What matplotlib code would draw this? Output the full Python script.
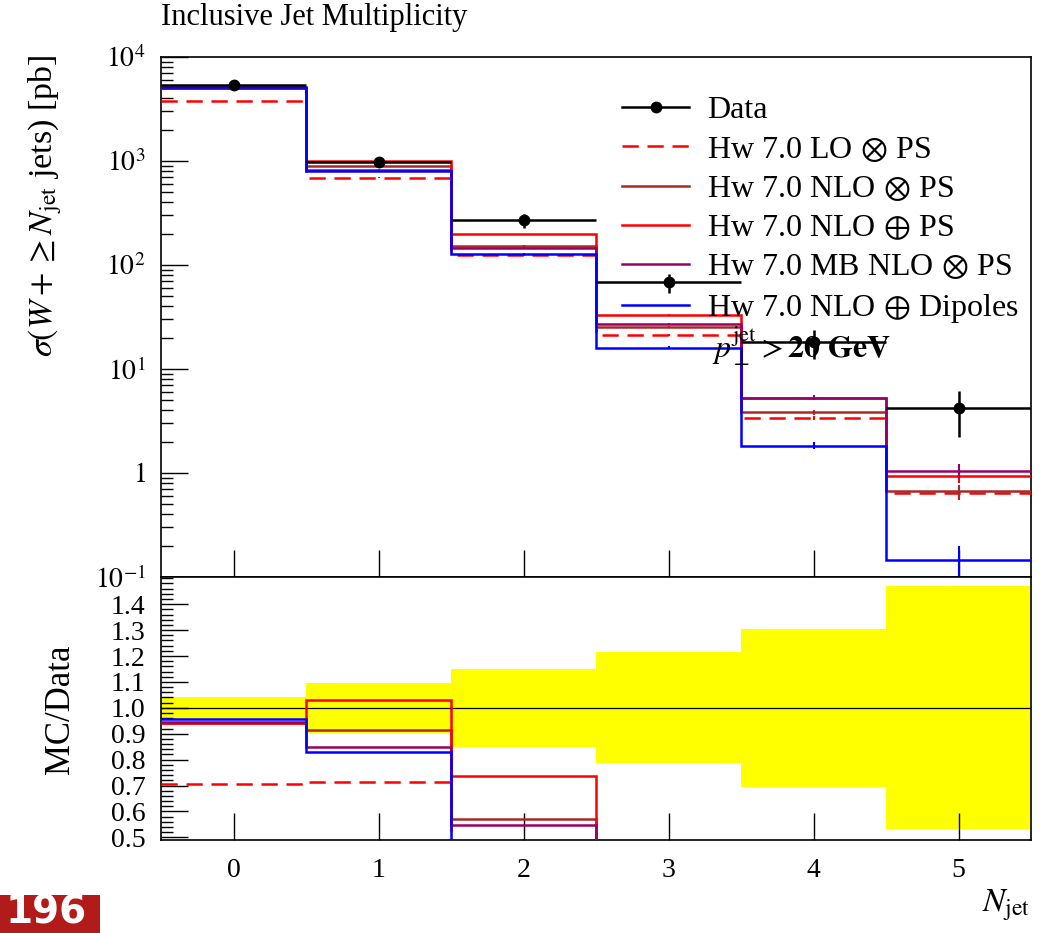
import numpy as np
import matplotlib
matplotlib.use("Agg")
import matplotlib.pyplot as plt
from matplotlib.lines import Line2D
from matplotlib.patches import Rectangle
from matplotlib.ticker import FixedLocator, LogLocator, MultipleLocator, NullFormatter, FormatStrFormatter

plt.rcParams['font.family'] = ['Liberation Serif', 'DejaVu Serif']
plt.rcParams['mathtext.fontset'] = 'stix'

# inclusive jet multiplicity, W + >= N jets
njet = [0, 1, 2, 3, 4, 5]
data = [5380, 970, 268, 68, 18.1, 4.2]
data_err = [235, 94, 40, 14.6, 5.5, 1.97]

lo_ps = [3790, 693, 124, 21.2, 3.40, 0.647]
nlo_otimes_ps = [5075, 886, 153, 25.5, 3.84, 0.671]
nlo_oplus_ps = [5060, 1000, 198, 33.0, 5.25, 0.935]
mb_nlo_otimes_ps = [5085, 825, 147, 27.1, 5.30, 1.05]
nlo_oplus_dipoles = [5150, 805, 128, 16.0, 1.83, 0.146]

# relative MC statistical uncertainties
mc_rel_err = [0.003, 0.005, 0.01, 0.02, 0.05, 0.15]
dipoles_rel_err = [0.003, 0.005, 0.01, 0.03, 0.08, 0.35]

series = [
    ("Hw 7.0 LO$\\,\\otimes\\,$PS", lo_ps, "#ff0000", (0, (6.5, 3.5)), mc_rel_err),
    ("Hw 7.0 NLO$\\,\\otimes\\,$PS", nlo_otimes_ps, "#a52a2a", "-", mc_rel_err),
    ("Hw 7.0 NLO$\\,\\oplus\\,$PS", nlo_oplus_ps, "#ff0000", "-", mc_rel_err),
    ("Hw 7.0 MB NLO$\\,\\otimes\\,$PS", mb_nlo_otimes_ps, "#990066", "-", mc_rel_err),
    ("Hw 7.0 NLO$\\,\\oplus\\,$Dipoles", nlo_oplus_dipoles, "#0000ff", "-", dipoles_rel_err),
]

x = np.array(njet, dtype=float)
edges = np.append(x - 0.5, x[-1] + 0.5)
d = np.array(data)
derr = np.array(data_err)

W, H = 1040, 933
fig = plt.figure(figsize=(W / 100, H / 100), dpi=100)
L, R = 161, 1031
ax = fig.add_axes([L / W, 1 - 577 / H, (R - L) / W, (577 - 57) / H])
ax2 = fig.add_axes([L / W, 1 - 840 / H, (R - L) / W, (840 - 577) / H])

lw = 1.8
# main panel
for label, vals, col, ls, rel in series:
    v = np.array(vals)
    ax.stairs(v, edges, baseline=None, color=col, ls=ls, lw=lw, zorder=3)
    ax.errorbar(x, v, yerr=v * np.array(rel), fmt='none', ecolor=col, elinewidth=1.5, zorder=3)

ax.errorbar(x, d, xerr=0.5, yerr=derr, fmt='o', color='black', ms=7.5,
            elinewidth=lw, capsize=0, zorder=4)

ax.set_yscale('log')
ax.set_xlim(-0.5, 5.5)
ax.set_ylim(0.1, 1e4)
ax.yaxis.set_major_locator(FixedLocator([0.1, 1, 10, 100, 1e3, 1e4]))
ax.set_yticklabels(['$10^{-1}$', '$1$', '$10^{1}$', '$10^{2}$', '$10^{3}$', '$10^{4}$'])
ax.yaxis.set_minor_locator(LogLocator(base=10, subs=np.arange(2, 10)))
ax.yaxis.set_minor_formatter(NullFormatter())
ax.set_xticks(njet)
ax.tick_params(axis='x', which='both', direction='in', length=19.5, width=1.0,
               labelbottom=False, top=False)
ax.tick_params(axis='y', which='major', direction='in', length=19.5, width=1.0,
               labelsize=20, pad=11, right=False)
ax.tick_params(axis='y', which='minor', direction='in', length=8.5, width=1.0, right=False)
for s in ax.spines.values():
    s.set_linewidth(1.2)

fig.text(L / W, 1 - 18 / H, "Inclusive Jet Multiplicity", fontsize=22, ha='left', va='center')
fig.text(45 / W, 1 - 55 / H, r"$\sigma(W + \geq N_{\rm jet}$ jets) [pb]", fontsize=24.5,
         rotation=90, ha='center', va='top')

handles = [Line2D([], [], color='black', lw=lw, marker='o', ms=7.5)]
labels = ["Data"]
for label, vals, col, ls, rel in series:
    handles.append(Line2D([], [], color=col, ls=ls, lw=lw))
    labels.append(label)
ax.legend(handles, labels, loc='upper left', bbox_to_anchor=(0.530, 0.925),
          frameon=False, fontsize=23, handlelength=2.1, handletextpad=0.55,
          labelspacing=0.31, borderpad=0, borderaxespad=0)

ax.text(0.633, 0.421, r"$p_\perp^{\rm jet} > \mathbf{20\ GeV}$", transform=ax.transAxes,
        fontsize=23, ha='left', va='baseline', zorder=5)

# ratio panel
rel_data = derr / d
ax2.bar(x, 2 * rel_data, bottom=1 - rel_data, width=1.0, color='#ffff00', lw=0, zorder=1)
ax2.axhline(1.0, color='black', lw=0.9, zorder=2)
for label, vals, col, ls, rel in series:
    r = np.array(vals) / d
    ax2.stairs(r, edges, baseline=None, color=col, ls=ls, lw=lw, zorder=3)

ax2.set_xlim(-0.5, 5.5)
ax2.set_ylim(0.49, 1.505)
ax2.yaxis.set_major_locator(FixedLocator(np.round(np.arange(0.5, 1.45, 0.1), 1)))
ax2.yaxis.set_major_formatter(FormatStrFormatter('%.1f'))
ax2.yaxis.set_minor_locator(MultipleLocator(0.02))
ax2.set_xticks(njet)
ax2.tick_params(axis='x', which='both', direction='in', length=19.5, width=1.0,
                labelsize=20, pad=13, top=False)
ax2.tick_params(axis='y', which='major', direction='in', length=19.5, width=1.0,
                labelsize=20, pad=11, right=False)
ax2.tick_params(axis='y', which='minor', direction='in', length=8.5, width=1.0, right=False)
for s in ax2.spines.values():
    s.set_linewidth(1.2)

fig.text(60 / W, 1 - 709 / H, "MC/Data", fontsize=25, rotation=90, ha='center', va='center')
fig.text(1030 / W, 1 - 905 / H, r"$N_{\rm jet}$", fontsize=24, ha='right', va='center')

# page number tab
fig.patches.append(Rectangle((0, 0), 100 / W, 38 / H, transform=fig.transFigure,
                             facecolor='#b31b1b', edgecolor='none'))
fig.text(6 / W, 2 / H, "196", fontsize=28, color='white', fontweight='bold',
         family='DejaVu Sans', ha='left', va='bottom')

fig.savefig("out.png", dpi=100)
